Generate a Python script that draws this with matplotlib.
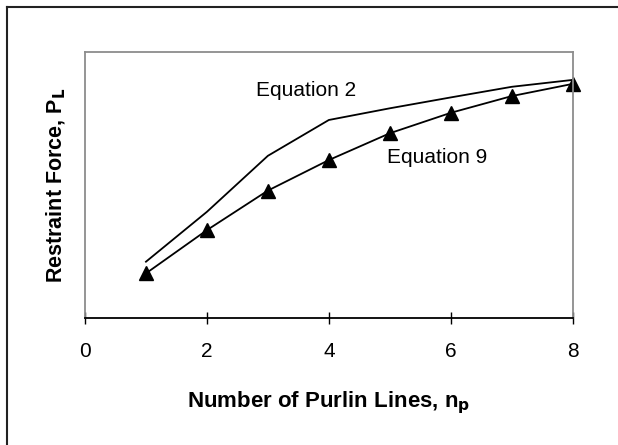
import matplotlib
matplotlib.use("Agg")
import matplotlib.pyplot as plt
from matplotlib.lines import Line2D

plt.rcParams['font.family'] = ['Liberation Sans', 'DejaVu Sans']

# ---- Data (restraint force, arbitrary units) ----
n_purlins = [1, 2, 3, 4, 5, 6, 7, 8]
eq2_force = [0.211, 0.399, 0.610, 0.745, 0.789, 0.830, 0.870, 0.896]
eq9_force = [0.167, 0.330, 0.479, 0.594, 0.695, 0.772, 0.835, 0.881]
x_ticks = [0, 2, 4, 6, 8]

fig = plt.figure(figsize=(6.18, 4.45), dpi=100)
ax = fig.add_axes([85 / 618, 1 - 317.7 / 445, 487.7 / 618, 265.4 / 445])

ax.plot(n_purlins, eq2_force, color="black", linewidth=1.3, clip_on=False)
ax.plot(n_purlins, eq9_force, color="black", linewidth=1.3,
        marker="^", markersize=10, clip_on=False)

ax.set_xlim(0, 8)
ax.set_ylim(0, 1)
ax.set_xticks(x_ticks)
ax.set_yticks([])
ax.tick_params(axis="x", direction="inout", length=9, width=1,
               labelsize=15, pad=13)

for side in ["left", "top", "right"]:
    ax.spines[side].set_color("#8c8c8c")
    ax.spines[side].set_linewidth(1.3)
ax.spines["bottom"].set_color("black")
ax.spines["bottom"].set_linewidth(1.3)

ax.text(3.62, 0.855, "Equation 2", fontsize=15, ha="center", va="center")
ax.text(5.78, 0.602, "Equation 9", fontsize=15, ha="center", va="center")

ax.set_xlabel("Number of Purlin Lines, n$_\\mathbf{p}$", fontsize=16,
              fontweight="bold", labelpad=20)
ax.set_ylabel("Restraint Force, P$_\\mathbf{L}$", fontsize=15.5,
              fontweight="bold", labelpad=12)

# outer frame (only left and top edges visible in the original)
fig.add_artist(Line2D([7 / 618, 7 / 618], [0, 1 - 7 / 445],
                      transform=fig.transFigure, color="#222222", linewidth=1.5))
fig.add_artist(Line2D([7 / 618, 1], [1 - 7 / 445, 1 - 7 / 445],
                      transform=fig.transFigure, color="#222222", linewidth=1.5))

fig.savefig("out.png", dpi=100)
